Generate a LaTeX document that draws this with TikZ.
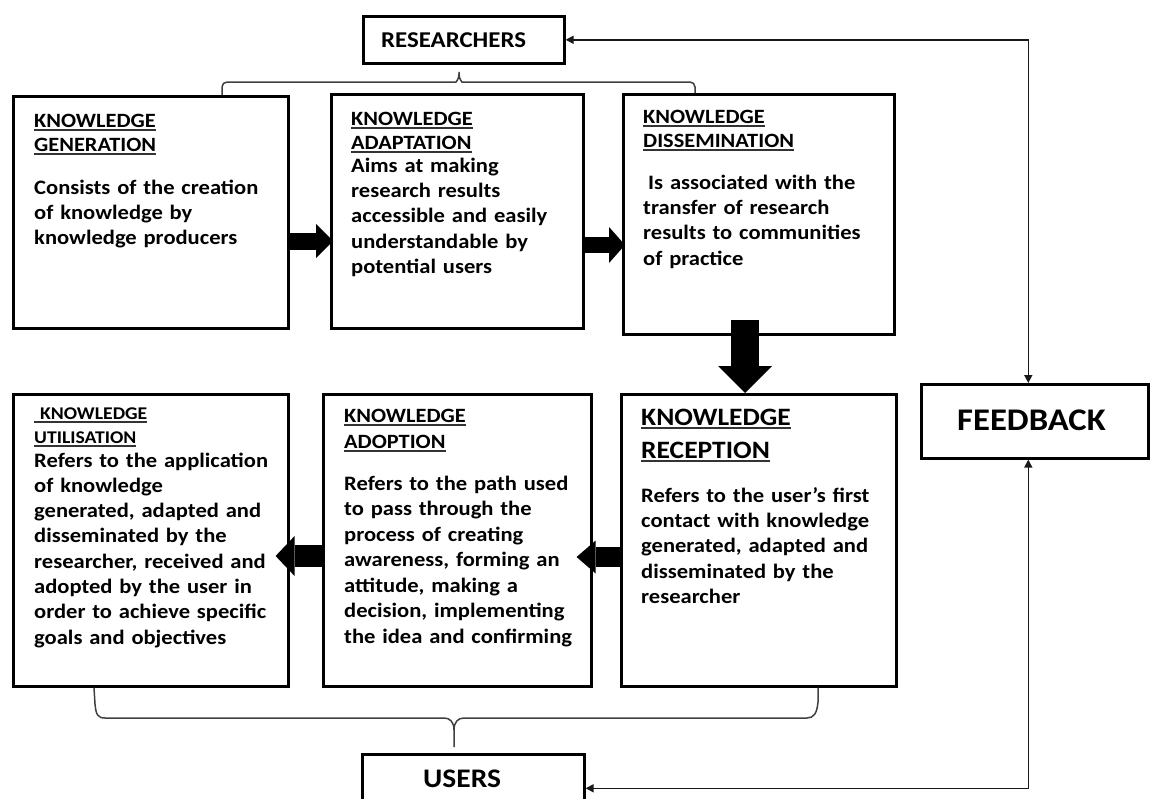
\documentclass[tikz,border=0pt]{standalone}
\usepackage{fontspec}
\setmainfont{Carlito}[FakeStretch=1.1]
\usetikzlibrary{arrows.meta,calc}

% underlined heading line
\newcommand\kwul[1]{\leavevmode\setbox0\hbox{#1}\rlap{\color{black!80}\rule[-3.9pt]{\wd0}{1.8pt}}\box0}

\begin{document}
\begin{tikzpicture}[x=1pt,y=-1pt,
  box/.style={draw=black, line width=2.6pt, rectangle, anchor=north west, inner sep=0pt},
  ttl/.style={anchor=base west, inner sep=0pt, text width=260pt, align=left,
              font=\bfseries\fontsize{20.3pt}{24pt}\selectfont},
  txt/.style={anchor=base west, inner sep=0pt, text width=260pt, align=left,
              font=\bfseries\fontsize{20.5pt}{25.4pt}\selectfont},
  lbl/.style={anchor=base west, inner sep=0pt, font=\bfseries},
  blk/.style n args={3}{draw=black, line width=#1,
              -{Triangle[length=#3,width=#2,line width=0pt]}},
  fb/.style={draw=black!90, line width=1.6pt,
              {Triangle[length=8pt,width=8pt]}-{Triangle[length=8pt,width=8pt]}},
  brace/.style={draw=black!75, line width=1.5pt}
]
\useasboundingbox (0,0) rectangle (1154,798);
\fill[white] (0,0) rectangle (1154,798);
\clip (0,0) rectangle (1154,798);

% ---- end-point boxes
\node[box, minimum width=201pt, minimum height=47pt] (res) at (362,15) {};
\node[lbl, font=\bfseries\fontsize{22.6pt}{26pt}\selectfont] (restxt) at (381,47) {RESEARCHERS};

\node[box, minimum width=227pt, minimum height=74pt] (fbk) at (920,383) {};
\node[lbl, font=\bfseries\fontsize{31.5pt}{36pt}\selectfont] (fbktxt) at (957,430) {FEEDBACK};

\node[box, minimum width=222pt, minimum height=68pt] (usr) at (361,753) {};
\node[lbl, font=\bfseries\fontsize{26.8pt}{30pt}\selectfont] (usrtxt) at (423,787) {USERS};

% ---- stage boxes, top row
\node[box, minimum width=275pt, minimum height=232pt] (gen) at (12,95) {};
\node[ttl] (gent) at (34,127) {\kwul{KNOWLEDGE}\\\kwul{GENERATION}};
\node[txt] (genb) at (34,194) {Consists of the creation\\of knowledge by\\knowledge producers};

\node[box, minimum width=252pt, minimum height=234pt] (adp) at (330,93) {};
\node[ttl] (adpt) at (351,125) {\kwul{KNOWLEDGE}\\\kwul{ADAPTATION}};
\node[txt] (adpb) at (351,172) {Aims at making\\research results\\accessible and easily\\understandable by\\potential users};

\node[box, minimum width=271pt, minimum height=240pt] (dis) at (622,93) {};
\node[ttl] (dist) at (643,123) {\kwul{KNOWLEDGE}\\\kwul{DISSEMINATION}};
\node[txt] (disb) at (643,189) {\hspace*{5pt}Is associated with the\\transfer of research\\results to communities\\of practice};

% ---- stage boxes, bottom row
\node[box, minimum width=275pt, minimum height=292pt] (rec) at (620,393) {};
\node[ttl, font=\bfseries\fontsize{25pt}{33pt}\selectfont] (rect) at (641,425) {\kwul{KNOWLEDGE}\\\kwul{RECEPTION}};
\node[txt] (recb) at (641,502) {Refers to the user’s first\\contact with knowledge\\generated, adapted and\\disseminated by the\\researcher};

\node[box, minimum width=268pt, minimum height=292pt] (ado) at (322,393) {};
\node[ttl, font=\bfseries\fontsize{20.3pt}{26pt}\selectfont] (adot) at (344,422) {\kwul{KNOWLEDGE}\\\kwul{ADOPTION}};
\node[txt, font=\bfseries\fontsize{20.5pt}{25.5pt}\selectfont] (adob) at (344,490) {Refers to the path used\\to pass through the\\process of creating\\awareness, forming an\\attitude, making a\\decision, implementing\\the idea and confirming};

\node[box, minimum width=275pt, minimum height=292pt] (uti) at (12,393) {};
\node[ttl, font=\bfseries\fontsize{17.9pt}{24pt}\selectfont] (utit) at (34,419) {\kwul{\ KNOWLEDGE}\\\kwul{UTILISATION}};
\node[txt, font=\bfseries\fontsize{20.5pt}{25.3pt}\selectfont] (utib) at (34,467) {Refers to the application\\of knowledge\\generated, adapted and\\disseminated by the\\researcher, received and\\adopted by the user in\\order to achieve specific\\goals and objectives};

% ---- block arrows between stages
\draw[blk={17pt}{34pt}{17pt}] (gen.east |- 0,241) -- ($(adp.west |- 0,241)+(3,0)$);
\draw[blk={16pt}{36pt}{16pt}] (adp.east |- 0,245) -- ($(dis.west |- 0,245)+(3,0)$);
\draw[blk={28pt}{54pt}{27pt}] ($(dis.south -| 745,0)+(0,-16)$) -- (rec.north -| 745,0);
\draw[blk={20pt}{33pt}{19pt}] (rec.west |- 0,557) -- ($(ado.east |- 0,557)+(-16,0)$);
\draw[blk={22pt}{40pt}{19pt}] (ado.west |- 0,556) -- ($(uti.east |- 0,556)+(-14,0)$);

% ---- braces grouping the stages
\draw[brace, rounded corners=5pt] (gen.north -| 222,0) |- (451,82)
  .. controls (456,82) and (459,79) .. (459,69)
  .. controls (459,79) and (462,82) .. (467,82) -| (dis.north -| 695,0);
\draw[brace] (uti.south -| 94,0) -- (95,704) .. controls (96,715) and (98,718) .. (105,718)
  -- (444,718) .. controls (450,718) and (454,722) .. (454,730) -- (454,747)
  -- (454,730) .. controls (454,722) and (458,718) .. (464,718)
  -- (807,718) .. controls (814,718) and (817,713) .. (818,702) -- (rec.south -| 818,0);

% ---- feedback loop
\draw[fb] ([xshift=-6.5pt]fbk.north) |- (res.east);
\draw[fb] ([xshift=-6.5pt]fbk.south) |- (usr.east);
\end{tikzpicture}
\end{document}
